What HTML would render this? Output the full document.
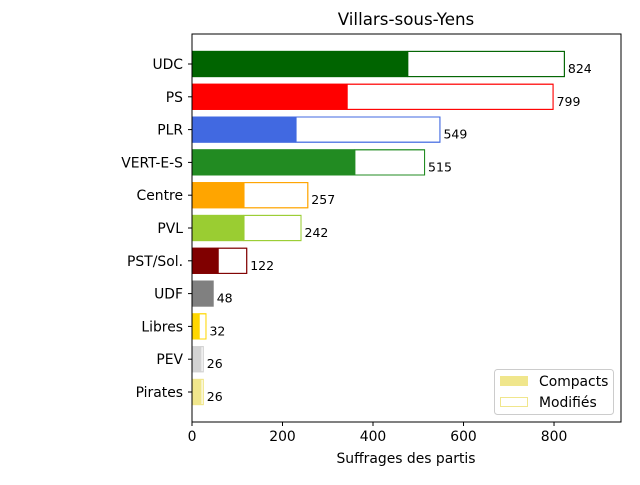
<!DOCTYPE html>
<html><head><meta charset="utf-8"><style>
body{margin:0;background:#fff}
svg{font-family:"DejaVu Sans","Liberation Sans",sans-serif}
</style></head><body>
<svg id="c" width="640" height="480"></svg>
<script>
const categories=["UDC","PS","PLR","VERT-E-S","Centre","PVL","PST/Sol.","UDF","Libres","PEV","Pirates"];
const totals=[824,799,549,515,257,242,122,48,32,26,26];
const compacts=[477,343,230,360,115,115,58,48,16,20,20];
const colors=["#006400","#ff0000","#4169e1","#228b22","#ffa500","#9acd32","#800000","#808080","#ffd700","#d3d3d3","#f0e68c"];
const xTicks=[0,200,400,600,800];
const NS="http://www.w3.org/2000/svg";
const svg=document.getElementById('c');
const X0=192,X1=621,XMAX=948,Y0=34,YB=422;
const sx=v=>X0+v*(X1-X0)/XMAX;
const yc=i=>64+i*32.8;
const BH=26.2;
function mk(t,a,txt){const e=document.createElementNS(NS,t);for(const k in a)e.setAttribute(k,a[k]);if(txt!=null)e.textContent=txt;svg.appendChild(e);return e;}
let e=mk('text',{x:406,y:25,'text-anchor':'middle','font-size':16.7},'Villars-sous-Yens');


categories.forEach((c,i)=>{
  const y=yc(i)-BH/2;
  let b=mk('rect',{x:X0,y:y,width:sx(compacts[i])-X0,height:BH,fill:colors[i]});
  
  
  if(totals[i]>compacts[i]){
    let m=mk('rect',{x:sx(compacts[i]),y:y+0.5,width:sx(totals[i])-sx(compacts[i])-0.5,height:BH-1,fill:'#fff',stroke:colors[i],'stroke-width':1});
    
    
    let o=mk('rect',{x:X0+0.5,y:y+0.5,width:sx(totals[i])-X0-1,height:BH-1,fill:'none',stroke:colors[i],'stroke-width':1});
    
    
  }
  let v=mk('text',{x:sx(totals[i])+3,y:yc(i)+9,'font-size':12.5},String(totals[i]));
  
  
  mk('line',{x1:X0-4,x2:X0,y1:yc(i),y2:yc(i),stroke:'#000'});
  let l=mk('text',{x:X0-9,y:yc(i)+5,'text-anchor':'end','font-size':13.9},c);
  
  
});
xTicks.forEach(t=>{
  mk('line',{x1:sx(t),x2:sx(t),y1:YB,y2:YB+4,stroke:'#000'});
  let l=mk('text',{x:sx(t),y:YB+19,'text-anchor':'middle','font-size':13.9},String(t));
  
  
});
mk('rect',{x:X0,y:Y0,width:X1-X0,height:YB-Y0,fill:'none',stroke:'#000','stroke-width':1});
e=mk('text',{x:406,y:463,'text-anchor':'middle','font-size':13.9},'Suffrages des partis');


let lg=mk('rect',{x:494.5,y:369.5,width:119,height:45,rx:3,fill:'#fff',stroke:'#ccc'});


mk('rect',{x:500,y:376,width:28,height:10,fill:'#f0e68c'});
e=mk('text',{x:539,y:386,'font-size':13.9},'Compacts');


mk('rect',{x:500.5,y:397.5,width:27,height:9,fill:'#fff',stroke:'#f0e68c'});
e=mk('text',{x:539,y:407,'font-size':13.9},'Modifiés');


</script>
</body></html>
